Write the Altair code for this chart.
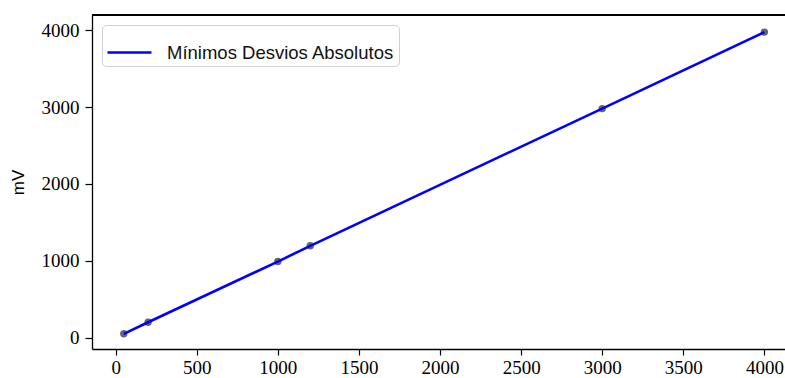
import altair as alt
import pandas as pd

# Calibration points: reference input vs. measured output (mV)
x_ref = [50, 200, 1000, 1200, 3000, 4000]
y_mv = [50, 200, 990, 1195, 2980, 3975]
series = ["Mínimos Desvios Absolutos"] * len(x_ref)

df = pd.DataFrame({"x": x_ref, "y": y_mv, "serie": series})

W, H = 693, 334
SERIF = "Liberation Serif"
SANS = "Liberation Sans"

xs = alt.Scale(domain=[-146, 4127], nice=False, zero=False)
ys = alt.Scale(domain=[-147.5, 4197.5], nice=False, zero=False)

x_axis = alt.Axis(values=[0, 500, 1000, 1500, 2000, 2500, 3000, 3500, 4000],
                  format="d", title=None, grid=False, labelFont=SERIF,
                  labelFontSize=19, labelColor="black", tickColor="black",
                  tickSize=6, tickWidth=1.2, domainColor="black", domainWidth=1.3,
                  labelPadding=3, labelFlush=False)
y_axis = alt.Axis(values=[0, 1000, 2000, 3000, 4000], format="d", title="mV",
                  grid=False, labelFont=SERIF, labelFontSize=19, labelColor="black",
                  tickColor="black", tickSize=7, tickWidth=1.2,
                  domainColor="black", domainWidth=1.3, labelPadding=6,
                  titleFont=SANS, titleFontSize=17, titleFontWeight="normal",
                  titleColor="black", titlePadding=14)

points = alt.Chart(df).mark_circle(size=55, color="#555555", opacity=0.9).encode(
    x=alt.X("x:Q", scale=xs, axis=x_axis),
    y=alt.Y("y:Q", scale=ys, axis=y_axis),
)

line = alt.Chart(df).mark_line(strokeWidth=2.6).encode(
    x=alt.X("x:Q", scale=xs),
    y=alt.Y("y:Q", scale=ys),
    color=alt.Color("serie:N", scale=alt.Scale(range=["#0000ff"]),
                    legend=alt.Legend(title=None, orient="top-left", offset=10,
                                      symbolType="stroke", symbolSize=1936,
                                      symbolStrokeWidth=2.6, labelFont=SANS,
                                      labelFontSize=18.5, labelColor="#111111",
                                      labelOffset=14, labelLimit=500, padding=4,
                                      strokeColor="#d0d0d0", fillColor="white",
                                      cornerRadius=4)),
)

top_spine = alt.Chart(df).mark_rule(color="black", strokeWidth=1.3).encode(
    x=alt.value(0), x2=alt.value(W + 5), y=alt.value(0)
)

chart = alt.layer(points, line, top_spine).properties(
    width=W, height=H,
    autosize=alt.AutoSizeParams(type="none"),
    padding={"left": 92, "top": 15, "right": 0, "bottom": 29},
).configure_view(stroke=None)

chart.save("out.html", embed_options={"renderer": "svg", "actions": False})
